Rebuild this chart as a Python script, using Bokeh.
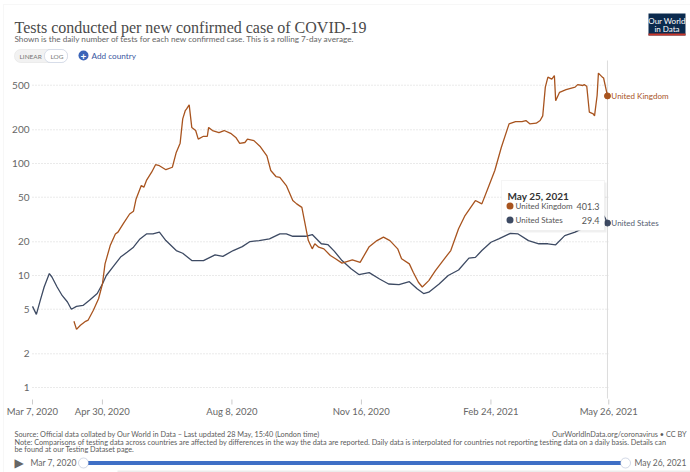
import pandas as pd
from bokeh.plotting import figure
from bokeh.models import Range1d, Label, BoxAnnotation
from bokeh.core.properties import value
from bokeh.embed import file_html
from bokeh.resources import INLINE

START = "2020-03-07"
tick_dates = ["2020-03-07", "2020-04-30", "2020-08-08", "2020-11-16", "2021-02-24", "2021-05-26"]
tick_labels = ["Mar 7, 2020", "Apr 30, 2020", "Aug 8, 2020", "Nov 16, 2020", "Feb 24, 2021", "May 26, 2021"]
y_ticks = [1, 2, 5, 10, 20, 50, 100, 200, 500]
y_tick_labels = ["1", "2", "5", "10", "20", "50", "100", "200", "500"]

us_dates = ["2020-03-07", "2020-03-10", "2020-03-13", "2020-03-16", "2020-03-20", "2020-03-22", "2020-03-26",
            "2020-03-30", "2020-04-03", "2020-04-06", "2020-04-10", "2020-04-15", "2020-04-20", "2020-04-26",
            "2020-04-30", "2020-05-03", "2020-05-08", "2020-05-14", "2020-05-19", "2020-05-24", "2020-05-29",
            "2020-06-03", "2020-06-08", "2020-06-13", "2020-06-18", "2020-06-26", "2020-07-01", "2020-07-08",
            "2020-07-17", "2020-07-26", "2020-08-01", "2020-08-09", "2020-08-16", "2020-08-22", "2020-08-29",
            "2020-09-06", "2020-09-14", "2020-09-19", "2020-09-24", "2020-10-04", "2020-10-09", "2020-10-16",
            "2020-10-21", "2020-10-26", "2020-11-01", "2020-11-08", "2020-11-14", "2020-11-22", "2020-11-30",
            "2020-12-07", "2020-12-15", "2020-12-23", "2020-12-29", "2021-01-03", "2021-01-07", "2021-01-15",
            "2021-01-22", "2021-01-30", "2021-02-07", "2021-02-12", "2021-02-17", "2021-02-24", "2021-03-02",
            "2021-03-11", "2021-03-17", "2021-03-25", "2021-04-02", "2021-04-09", "2021-04-15", "2021-04-22",
            "2021-04-30", "2021-05-05", "2021-05-11", "2021-05-17", "2021-05-21", "2021-05-23", "2021-05-25"]
us_values = [5.3, 4.5, 6.0, 7.9, 10.4, 9.7, 7.9,
             6.6, 5.8, 5.0, 5.3, 5.4, 6.0, 6.9,
             8.4, 10.0, 11.9, 14.6, 16.1, 17.9, 21.2,
             23.5, 23.5, 24.4, 20.5, 16.7, 15.8, 13.6,
             13.6, 15.3, 14.8, 16.7, 18.1, 20.1, 20.5,
             21.2, 23.5, 23.5, 22.4, 22.4, 23.2, 19.2,
             18.9, 16.5, 13.6, 11.5, 10.2, 10.6, 9.3,
             8.4, 8.3, 8.8, 7.6, 6.9, 7.1, 8.4,
             10.0, 11.2, 14.3, 14.5, 16.7, 19.8, 21.2,
             23.8, 23.5, 20.5, 19.2, 19.2, 18.8, 22.7,
             24.4, 26.1, 28.5, 32.0, 35.4, 33.0, 29.4]

uk_dates = ["2020-04-08", "2020-04-10", "2020-04-13", "2020-04-17", "2020-04-19", "2020-04-23", "2020-04-27",
            "2020-04-30", "2020-05-02", "2020-05-06", "2020-05-10", "2020-05-12", "2020-05-16", "2020-05-21",
            "2020-05-24", "2020-05-26", "2020-05-30", "2020-06-01", "2020-06-03", "2020-06-07", "2020-06-10",
            "2020-06-13", "2020-06-18", "2020-06-23", "2020-06-26", "2020-06-29", "2020-07-01", "2020-07-03",
            "2020-07-04", "2020-07-06", "2020-07-08", "2020-07-11", "2020-07-13", "2020-07-17", "2020-07-20",
            "2020-07-21", "2020-07-24", "2020-07-29", "2020-08-02", "2020-08-07", "2020-08-11", "2020-08-14",
            "2020-08-18", "2020-08-20", "2020-08-25", "2020-08-30", "2020-09-04", "2020-09-07", "2020-09-11",
            "2020-09-14", "2020-09-19", "2020-09-24", "2020-09-27", "2020-10-01", "2020-10-03", "2020-10-06",
            "2020-10-09", "2020-10-11", "2020-10-14", "2020-10-18", "2020-10-23", "2020-10-27", "2020-11-01",
            "2020-11-09", "2020-11-15", "2020-11-22", "2020-11-28", "2020-12-03", "2020-12-08", "2020-12-14",
            "2020-12-17", "2020-12-23", "2020-12-26", "2020-12-30", "2021-01-02", "2021-01-07", "2021-01-12",
            "2021-01-18", "2021-01-24", "2021-01-30", "2021-02-04", "2021-02-08", "2021-02-12", "2021-02-17",
            "2021-02-22", "2021-02-27", "2021-03-04", "2021-03-10", "2021-03-15", "2021-03-20", "2021-03-23",
            "2021-03-26", "2021-03-31", "2021-04-03", "2021-04-05", "2021-04-07", "2021-04-09", "2021-04-12",
            "2021-04-14", "2021-04-15", "2021-04-18", "2021-04-23", "2021-04-30", "2021-05-02", "2021-05-06",
            "2021-05-07", "2021-05-09", "2021-05-11", "2021-05-14", "2021-05-15", "2021-05-17", "2021-05-18",
            "2021-05-21", "2021-05-22", "2021-05-25"]
uk_values = [3.9, 3.3, 3.6, 3.9, 4.0, 4.9, 6.2,
             8.4, 12.7, 18.5, 23.5, 24.4, 28.9, 35.4,
             37.5, 48.3, 63.5, 61.5, 70.6, 83.6, 97.6,
             95.6, 88.0, 92.6, 125.6, 152, 250, 297,
             307, 334, 210, 197, 165, 175, 175,
             210, 197, 189, 197, 186, 171, 151,
             154, 165, 160, 141, 117, 86.6, 76.5,
             75.3, 63.5, 46.7, 43.6, 40.6, 30.9, 20.5,
             17.3, 19.2, 17.9, 17.3, 15.1, 14.1, 12.9,
             13.8, 13.1, 18.1, 20.5, 22.0, 20.5, 17.3,
             14.1, 12.7, 10.7, 8.7, 7.9, 9.0, 11.0,
             13.6, 16.7, 26.1, 34.3, 40.0, 46.7, 43.6,
             61.5, 86.6, 139, 226, 237, 237, 242,
             226, 229, 242, 266, 481, 590, 567,
             610, 363, 432, 456, 481, 506, 497,
             506, 489, 287, 277, 266, 405, 641,
             590, 580, 401.3]

series_names = ["United Kingdom", "United States"]
hover_date_label = "May 25, 2021"

UK_COL = "#a8541f"
US_COL = "#3d4a63"
W, H = 690, 472

# ---- layout geometry (pixels) ----
X0_PX, PX_PER_DAY = 32.0, 1.295        # day 0 at x=32
Y1_PX, PX_PER_DECADE = 387.0, 112.0    # value 1 at y=387
FRAME_TOP, FRAME_BOTTOM = 60, 398


def xval(px):
    return (px - X0_PX) / PX_PER_DAY


def yval(px):
    return 10 ** ((Y1_PX - px) / PX_PER_DECADE)


def days(ds):
    return list((pd.to_datetime(pd.Series(ds)) - pd.Timestamp(START)).dt.days)


uk_x = days(uk_dates)
us_x = days(us_dates)
tick_x = days(tick_dates)

p = figure(width=W, height=H, x_range=Range1d(xval(0), xval(W)), y_range=Range1d(yval(H), yval(0)),
           y_axis_type="log", x_axis_location=None, y_axis_location=None,
           output_backend="svg", toolbar_location=None,
           min_border_left=0, min_border_right=0, min_border_top=0, min_border_bottom=0)
p.outline_line_color = None
p.grid.visible = False
p.background_fill_color = "white"
p.border_fill_color = "white"

n = len(y_ticks)
# gridlines (from first to last x tick)
p.segment(x0=[tick_x[0]] * n, x1=[tick_x[-1]] * n, y0=y_ticks, y1=y_ticks,
          line_color="#d4d4d4", line_width=1, line_dash="1 2")
# y tick labels
p.text(x=[xval(29)] * n, y=y_ticks, text=y_tick_labels, text_align="right", text_baseline="middle",
       text_font=value("Lato"), text_font_size="10px", text_color="#666666")
# x ticks and labels
m = len(tick_x)
p.segment(x0=tick_x, x1=tick_x, y0=[yval(399)] * m, y1=[yval(404)] * m, line_color="#cccccc", line_width=1)
p.text(x=tick_x, y=[yval(411)] * m, text=tick_labels, text_align="center", text_baseline="middle",
       text_font=value("Lato"), text_font_size="9.5px", text_color="#666666")

# hover line
p.segment(x0=[uk_x[-1]], x1=[uk_x[-1]], y0=[yval(FRAME_TOP)], y1=[yval(FRAME_BOTTOM)],
          line_color="#dddddd", line_width=1)

p.line(us_x, us_values, line_color=US_COL, line_width=1.3)
p.line(uk_x, uk_values, line_color=UK_COL, line_width=1.3)

p.scatter([uk_x[-1]], [uk_values[-1]], size=6, color=UK_COL)
p.scatter([us_x[-1]], [us_values[-1]], size=6, color=US_COL)
p.text([uk_x[-1] + 3], [uk_values[-1]], text=[series_names[0]], text_baseline="middle",
       text_font=value("Lato"), text_font_size="8px", text_color=UK_COL)
p.text([us_x[-1] + 3], [us_values[-1]], text=[series_names[1]], text_baseline="middle",
       text_font=value("Lato"), text_font_size="8px", text_color="#555e70")


# canvas units: y measured from the top of the canvas
def lab(x, y, text, size, color, font="Lato", align="left", baseline="alphabetic", style="normal"):
    p.add_layout(Label(x=x, y=y, x_units="canvas", y_units="canvas", text=text,
                       text_font=font, text_font_size=size, text_color=color, text_align=align,
                       text_baseline=baseline, text_font_style=style, level="overlay"))


def box(l, t, r, b, fill, line=None, radius=0, alpha=1.0, lw=1):
    p.add_layout(BoxAnnotation(left=l, right=r, top=t, bottom=b,
                               left_units="canvas", right_units="canvas",
                               top_units="canvas", bottom_units="canvas",
                               fill_color=fill, fill_alpha=alpha, line_color=line, line_width=lw,
                               border_radius=int(radius), level="overlay"))


# card border
box(3, 4, 700, 480, None, line="#e4e4e4")

# title & subtitle
lab(14, 27, "Tests conducted per new confirmed case of COVID-19", "16px", "#4a4a4a", font="Liberation Serif")
lab(14, 38, "Shown is the daily number of tests for each new confirmed case. This is a rolling 7-day average.",
    "8.2px", "#666666")

# linear/log toggle
box(14, 49, 67, 62, "#f2f2f2", line="#d0d0d0", radius=6)
box(44, 49, 67, 62, "white", line="#8fa3c9", radius=6)
lab(19, 55.5, "LINEAR", "6.5px", "#777777", baseline="middle")
lab(50, 55.5, "LOG", "6.5px", "#777777", baseline="middle")
# add country
box(78, 50, 88, 60, "#3b64b8", radius=5)
lab(83, 55.5, "+", "10px", "white", align="center", baseline="middle", style="bold")
lab(91, 55.5, "Add country", "8.2px", "#3a57a0", baseline="middle")

# logo
box(648, 13, 685, 35, "#0b2a4e")
box(648, 33, 685, 35, "#c8362a")
lab(666.5, 20, "Our World", "8px", "white", align="center", baseline="middle")
lab(666.5, 28, "in Data", "8px", "white", align="center", baseline="middle")

# tooltip
box(503, 182, 606, 232, "#000000", alpha=0.06)
box(501, 180, 604, 230, "white", line="#dddddd")
lab(507, 195, hover_date_label, "10px", "#333333", style="bold")
box(506, 202, 513, 209, UK_COL, radius=4)
lab(515, 205.5, series_names[0], "8px", "#555555", baseline="middle")
lab(599, 205.5, f"{uk_values[-1]:.1f}", "9px", "#555555", align="right", baseline="middle")
box(506, 216, 513, 223, US_COL, radius=4)
lab(515, 219.5, series_names[1], "8px", "#555555", baseline="middle")
lab(599, 219.5, f"{us_values[-1]:.1f}", "9px", "#555555", align="right", baseline="middle")

# footer
lab(14, 434, "Source: Official data collated by Our World in Data \u2013 Last updated 28 May, 15:40 (London time)",
    "7.3px", "#5b5b5b")
lab(686, 434, "OurWorldInData.org/coronavirus \u2022 CC BY", "7.3px", "#5b5b5b", align="right")
lab(14, 441.5, "Note: Comparisons of testing data across countries are affected by differences in the way the data are "
               "reported. Daily data is interpolated for countries not reporting testing data on a daily basis. Details can",
    "7.3px", "#5b5b5b")
lab(14, 449, "be found at our Testing Dataset page.", "7.3px", "#5b5b5b")

# timeline slider
lab(14, 462.5, "\u25B6", "12px", "#666666", font="DejaVu Sans", baseline="middle")
lab(30, 462.5, tick_labels[0], "8.5px", "#666666", baseline="middle")
box(84, 460.5, 624, 464.5, "#3f6fc6")
box(78, 457.5, 88, 467.5, "white", line="#6d82ad", radius=5)
box(620, 457.5, 630, 467.5, "white", line="#6d82ad", radius=5)
lab(634, 462.5, tick_labels[-1], "8.5px", "#666666", baseline="middle")
box(117, 470, 700, 480, "#ececec")

open("out.html", "w").write(file_html(p, INLINE))
